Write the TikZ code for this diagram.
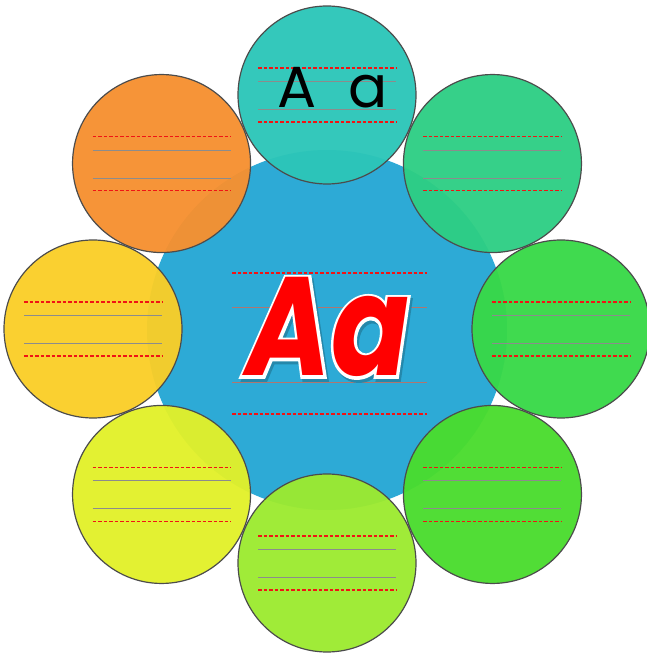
\documentclass[tikz,border=0pt]{standalone}
\usepackage{fontspec}
\newfontfamily\smallletters{Poppins}
\newfontfamily\bigletters[FakeStretch=0.82]{Poppins}
\newfontfamily\rimletters[FakeStretch=0.82,FakeBold=4]{Poppins}

\definecolor{discblue}{RGB}{45,170,214}
\definecolor{bTop}{RGB}{44,198,184}
\definecolor{bTR}{RGB}{46,206,132}
\definecolor{bR}{RGB}{56,216,72}
\definecolor{bBR}{RGB}{74,220,46}
\definecolor{bB}{RGB}{156,234,48}
\definecolor{bBL}{RGB}{226,240,42}
\definecolor{bL}{RGB}{250,206,40}
\definecolor{bTL}{RGB}{246,144,48}
\definecolor{rulebrown}{RGB}{175,118,112}
\definecolor{rulered}{RGB}{240,20,20}

\tikzset{
  bubble/.style={circle, inner sep=0pt, minimum size=178pt, draw=black!70, line width=1.2pt, fill opacity=0.96},
  redrule/.style={rulered, dash pattern=on 3.5pt off 2pt, line width=1.1pt},
  grayrule/.style={gray!90, line width=1pt},
  bigaa/.style={anchor=base, inner sep=0pt, font=\bfseries\itshape\fontsize{140}{140}\selectfont},
}

\begin{document}
\begin{tikzpicture}[x=1pt,y=1pt]
    \useasboundingbox (0,0) rectangle (646,654);

    % Blue disc in the middle
    \fill[discblue] (327,324) circle (180);
    \coordinate (ctr) at (327,325);

    % Eight bubbles, each with its writing lines
    \foreach \nm/\ang/\col in {top/90/bTop, tr/45/bTR, right/0/bR, br/-45/bBR,
                               bottom/-90/bB, bl/-135/bBL, left/180/bL, tl/135/bTL} {
        \node[bubble, fill=\col] (\nm) at ([shift={(\ang:234)}]ctr) {};
        \draw[redrule] ([shift={(-69,27)}]\nm.center) -- ([shift={(69,27)}]\nm.center);
        \draw[grayrule] ([shift={(-69,13.5)}]\nm.center) -- ([shift={(69,13.5)}]\nm.center);
        \draw[grayrule] ([shift={(-69,-14.5)}]\nm.center) -- ([shift={(69,-14.5)}]\nm.center);
        \draw[redrule] ([shift={(-69,-27)}]\nm.center) -- ([shift={(69,-27)}]\nm.center);
    }

    % Letters in the top bubble
    \node[anchor=base, inner sep=0pt, font=\smallletters\fontsize{58}{58}\selectfont] (capA) at (297,546) {A};
    \node[anchor=base, inner sep=0pt, font=\smallletters\fontsize{58}{58}\selectfont] (smalla) at (368,546) {a};

    % Writing lines of the disc
    \coordinate (mid) at (329.5,310.5);
    \draw[redrule] ([shift={(-97.5,70.5)}]mid) -- ([shift={(97.5,70.5)}]mid);
    \draw[rulebrown, line width=1pt] ([shift={(-97.5,35.5)}]mid) -- ([shift={(97.5,35.5)}]mid);
    \draw[rulebrown, line width=1pt] ([shift={(-97.5,-39.5)}]mid) -- ([shift={(97.5,-39.5)}]mid);
    \draw[redrule] ([shift={(-97.5,-70.5)}]mid) -- ([shift={(97.5,-70.5)}]mid);

    % Big red letters with white rim and a soft shadow
    \node[bigaa] (bigword) at (328,278)
        {\rlap{\kern2pt\raisebox{-3pt}{\rimletters\color{black!20!discblue}Aa}}%
         \rlap{\rimletters\color{white}Aa}%
         \bigletters\color{red}Aa};
\end{tikzpicture}
\end{document}
